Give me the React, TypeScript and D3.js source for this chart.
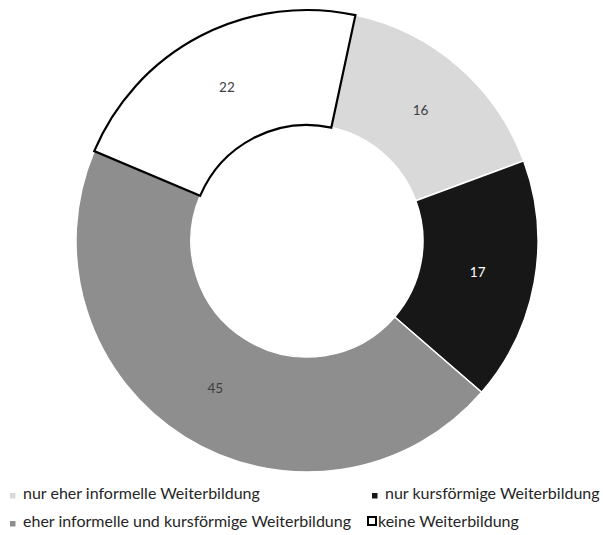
import * as d3 from 'd3'

const categories = [
  'nur eher informelle Weiterbildung',
  'nur kursförmige Weiterbildung',
  'eher informelle und kursförmige Weiterbildung',
  'keine Weiterbildung'
]
const shares = [16, 17, 45, 22]
const fills = ['#D9D9D9', '#171717', '#8E8E8E', '#FFFFFF']
const labelColors = ['#404040', '#FFFFFF', '#404040', '#404040']

const width = 603
const height = 535
const cx = 307
const cy = 241
const outerR = 231
const innerR = 116
const startDeg = 12.1
const font = 'Lato, "Open Sans", sans-serif'

export default function App() {
  const start = (startDeg * Math.PI) / 180
  const pie = d3
    .pie<number>()
    .sort(null)
    .startAngle(start)
    .endAngle(start + 2 * Math.PI)
  const arcs = pie(shares)
  const arc = d3.arc<d3.PieArcDatum<number>>().innerRadius(innerR).outerRadius(outerR)

  // white slice goes last so its black outline sits on top
  const order = [0, 1, 2, 3]

  // legend layout: two rows, two columns
  const legend = [
    { i: 0, x: 10, y: 499 },
    { i: 1, x: 372, y: 499 },
    { i: 2, x: 10, y: 527 },
    { i: 3, x: 367, y: 527 }
  ]

  return (
    <div style={{ position: 'absolute', left: 0, top: 0 }}>
      <svg width={width} height={height} style={{ display: 'block', background: '#fff' }}>
        <g transform={`translate(${cx},${cy})`}>
          {order.map((i) => (
            <path
              key={i}
              d={arc(arcs[i]) || ''}
              fill={fills[i]}
              stroke={i === 3 ? '#000' : '#fff'}
              strokeWidth={i === 3 ? 2.2 : 1.5}
              strokeLinejoin="miter"
            />
          ))}
          {arcs.map((a, i) => {
            const [x, y] = arc.centroid(a)
            return (
              <text
                key={i}
                x={x}
                y={y}
                dy="0.35em"
                textAnchor="middle"
                fontFamily={font}
                fontSize={13.5}
                fill={labelColors[i]}
              >
                {shares[i]}
              </text>
            )
          })}
        </g>
        <g>
          {legend.map(({ i, x, y }) => (
            <g key={i}>
              {i === 3 ? (
                <rect x={x + 1} y={y - 10} width={8} height={8} fill="#fff" stroke="#000" strokeWidth={2} />
              ) : (
                <rect x={x} y={y - 6} width={5.5} height={5.5} fill={fills[i]} />
              )}
              <text
                x={i === 3 ? x + 11 : x + 13}
                y={y}
                fontFamily={font}
                fontSize={16}
                fill="#262626"
              >
                {categories[i]}
              </text>
            </g>
          ))}
        </g>
      </svg>
    </div>
  )
}
